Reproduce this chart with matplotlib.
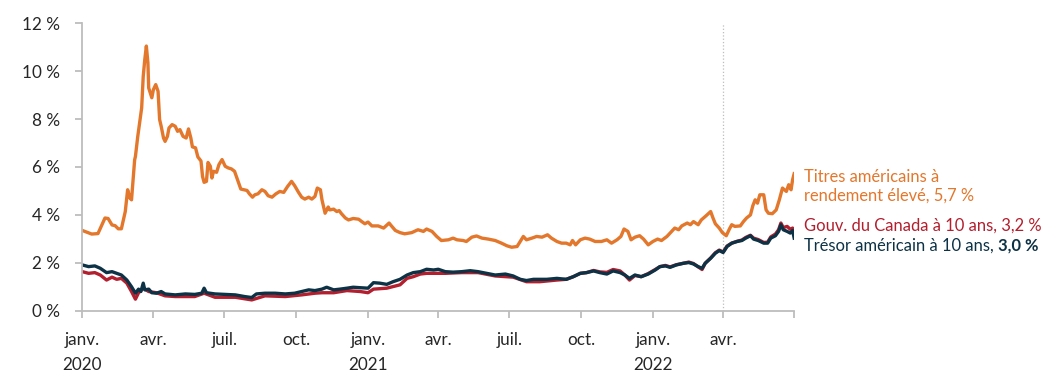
import matplotlib
matplotlib.use("Agg")
import matplotlib.pyplot as plt
import pandas as pd

# jours depuis le 1er janvier 2020, rendements en %
base = pd.Timestamp("2020-01-01")

hy_day = [0, 12, 20, 29, 33, 38, 42, 46, 50, 55, 58, 61, 63, 67, 68, 71, 74, 76, 78, 80,
          82, 84, 85, 89, 91, 94, 97, 99, 101, 104, 106, 109, 111, 115, 119, 122, 125, 129, 133, 136,
          139, 141, 145, 148, 152, 154, 156, 159, 161, 164, 166, 168, 172, 175, 179, 183, 187, 191, 195, 198,
          201, 203, 207, 211, 214, 218, 221, 225, 230, 234, 238, 243, 248, 253, 258, 263, 268, 272, 277, 281,
          285, 290, 294, 298, 301, 305, 307, 309, 311, 315, 317, 322, 326, 329, 332, 337, 341, 347, 354, 358,
          362, 366, 371, 379, 386, 393, 396, 401, 407, 413, 422, 430, 437, 441, 448, 454, 460, 469, 475, 480,
          488, 492, 499, 505, 512, 520, 529, 537, 544, 550, 557, 561, 565, 569, 576, 582, 589, 596, 601, 608,
          614, 620, 625, 628, 632, 638, 644, 650, 657, 665, 672, 678, 685, 690, 694, 699, 703, 708, 714, 719,
          725, 731, 737, 742, 749, 755, 759, 764, 768, 775, 779, 783, 789, 793, 799, 805, 808, 811, 816, 820,
          825, 829, 832, 836, 843, 847, 851, 856, 859, 862, 865, 868, 873, 876, 879, 884, 889, 893, 897, 902,
          905, 908, 910, 912]
hy_val = [3.35, 3.2, 3.22, 3.87, 3.85, 3.58, 3.55, 3.42, 3.42, 4.14, 5.05, 4.7, 4.63, 6.3, 6.44, 7.28, 7.98, 8.47, 9.79, 10.49,
          11.05, 10.35, 9.3, 8.89, 9.23, 9.44, 9.16, 7.98, 7.7, 7.21, 7.07, 7.28, 7.63, 7.77, 7.7, 7.49, 7.56, 7.28, 7.21, 7.59,
          7.21, 6.84, 6.8, 6.42, 6.25, 5.6, 5.36, 5.4, 6.19, 6.03, 5.54, 5.82, 5.78, 6.1, 6.31, 6.03, 5.96, 5.92, 5.82, 5.54,
          5.26, 5.08, 5.05, 5.02, 4.88, 4.74, 4.84, 4.88, 5.05, 4.98, 4.8, 4.74, 4.88, 4.98, 4.94, 5.19, 5.4, 5.22, 4.94, 4.74,
          4.66, 4.74, 4.66, 4.77, 5.12, 5.05, 4.63, 4.35, 4.07, 4.33, 4.21, 4.24, 4.14, 4.18, 4.05, 3.87, 3.79, 3.85, 3.82, 3.72,
          3.63, 3.70, 3.54, 3.54, 3.45, 3.66, 3.54, 3.35, 3.26, 3.21, 3.26, 3.38, 3.31, 3.41, 3.31, 3.1, 2.93, 2.96, 3.03, 2.96,
          2.93, 2.89, 3.07, 3.12, 3.03, 2.99, 2.93, 2.82, 2.71, 2.65, 2.68, 2.89, 3.1, 2.96, 3.03, 3.1, 3.07, 3.17, 3.03, 2.89,
          2.82, 2.82, 2.75, 2.93, 2.75, 2.96, 3.03, 2.99, 2.89, 2.89, 2.96, 2.82, 2.96, 3.1, 3.41, 3.31, 2.96, 3.07, 3.13, 2.99,
          2.75, 2.89, 2.99, 2.93, 3.1, 3.31, 3.45, 3.38, 3.54, 3.66, 3.59, 3.72, 3.59, 3.79, 3.96, 4.14, 3.87, 3.63, 3.45, 3.26,
          3.13, 3.41, 3.59, 3.52, 3.54, 3.72, 3.87, 4.0, 4.38, 4.63, 4.49, 4.84, 4.84, 4.21, 4.07, 4.05, 4.21, 4.63, 5.12, 4.98,
          5.26, 5.05, 5.47, 5.72]

cad_day = [0, 8, 16, 23, 31, 38, 44, 50, 57, 63, 68, 72, 78, 85, 95, 106, 119, 144, 156, 170,
           196, 217, 234, 260, 281, 298, 307, 322, 339, 356, 366, 373, 390, 407, 416, 424, 433, 441, 450, 465,
           486, 507, 529, 552, 569, 586, 608, 620, 629, 638, 646, 655, 663, 672, 680, 689, 695, 701, 708, 716,
           725, 734, 740, 747, 753, 761, 770, 777, 783, 789, 794, 798, 805, 811, 816, 821, 826, 832, 839, 845,
           850, 856, 860, 866, 873, 878, 882, 888, 892, 895, 898, 903, 907, 910, 912]
cad_val = [1.63, 1.56, 1.59, 1.49, 1.28, 1.4, 1.31, 1.35, 1.15, 0.8, 0.48, 0.75, 0.94, 0.8, 0.75, 0.62, 0.59, 0.59, 0.73, 0.56,
           0.56, 0.45, 0.62, 0.59, 0.66, 0.73, 0.75, 0.75, 0.84, 0.8, 0.75, 0.9, 0.94, 1.08, 1.35, 1.42, 1.53, 1.56, 1.56, 1.56,
           1.59, 1.59, 1.45, 1.4, 1.21, 1.21, 1.28, 1.31, 1.42, 1.56, 1.59, 1.68, 1.62, 1.60, 1.72, 1.66, 1.49, 1.28, 1.47, 1.42,
           1.55, 1.72, 1.84, 1.89, 1.83, 1.92, 1.98, 2.03, 1.97, 1.83, 1.72, 1.98, 2.2, 2.42, 2.53, 2.45, 2.7, 2.82, 2.9, 2.95,
           3.06, 3.15, 3.03, 2.97, 2.85, 2.86, 3.08, 3.2, 3.38, 3.66, 3.47, 3.52, 3.4, 3.45, 3.2]

ust_day = [0, 8, 16, 23, 31, 38, 44, 50, 57, 63, 68, 72, 75, 78, 80, 85, 89, 95, 101, 106,
           119, 132, 144, 153, 156, 159, 170, 183, 196, 208, 217, 223, 234, 247, 260, 272, 281, 290, 298, 307,
           313, 322, 330, 339, 347, 356, 366, 373, 381, 390, 398, 407, 416, 424, 433, 441, 450, 456, 465, 475,
           486, 497, 507, 518, 529, 542, 552, 561, 569, 578, 586, 595, 608, 620, 629, 638, 646, 655, 663, 672,
           680, 689, 695, 701, 708, 716, 725, 734, 740, 747, 753, 761, 770, 777, 783, 789, 794, 798, 805, 811,
           816, 821, 826, 832, 839, 845, 850, 856, 860, 866, 873, 878, 882, 888, 892, 895, 898, 903, 907, 910,
           912]
ust_val = [1.91, 1.84, 1.87, 1.77, 1.59, 1.63, 1.56, 1.49, 1.28, 1.0, 0.73, 0.9, 0.8, 1.15, 0.87, 0.9, 0.75, 0.73, 0.8, 0.7,
           0.66, 0.7, 0.68, 0.73, 0.94, 0.75, 0.7, 0.68, 0.66, 0.59, 0.55, 0.7, 0.73, 0.73, 0.7, 0.73, 0.8, 0.87, 0.84, 0.9,
           0.98, 0.87, 0.9, 0.94, 0.98, 0.96, 0.94, 1.17, 1.15, 1.1, 1.21, 1.31, 1.49, 1.59, 1.63, 1.73, 1.7, 1.73, 1.63, 1.61,
           1.63, 1.67, 1.63, 1.56, 1.49, 1.53, 1.45, 1.31, 1.26, 1.31, 1.31, 1.31, 1.35, 1.31, 1.42, 1.56, 1.59, 1.66, 1.59, 1.53,
           1.66, 1.59, 1.49, 1.35, 1.49, 1.42, 1.53, 1.7, 1.84, 1.87, 1.81, 1.91, 1.98, 2.01, 1.95, 1.84, 1.77, 1.98, 2.19, 2.4,
           2.51, 2.43, 2.68, 2.82, 2.89, 2.93, 3.03, 3.13, 2.99, 2.93, 2.82, 2.82, 3.03, 3.13, 3.31, 3.59, 3.38, 3.31, 3.24, 3.35,
           3.03]

tick_dates = ["2020-01-01", "2020-04-01", "2020-07-01", "2020-10-01", "2021-01-01", "2021-04-01",
              "2021-07-01", "2021-10-01", "2022-01-01", "2022-04-01", "2022-07-01"]
tick_labels = ["janv.\n2020", "avr.", "juil.", "oct.", "janv.\n2021", "avr.",
               "juil.", "oct.", "janv.\n2022", "avr.", ""]
y_ticks = [0, 2, 4, 6, 8, 10, 12]

ORANGE = "#E3772C"
RED = "#B21F2E"
NAVY = "#0D3245"
GREY_TXT = "#262626"
GREY_AX = "#BDBDBD"
FS = 12.3
FS_LAB = 11.9

plt.rcParams["font.family"] = ["Lato", "DejaVu Sans"]


def to_dates(days):
    return base + pd.to_timedelta(days, unit="D")


fig = plt.figure(figsize=(10.64, 3.89), dpi=100)
ax = fig.add_axes([0.0774, 0.2013, 0.6690, 0.7388])

ax.plot(to_dates(hy_day), hy_val, color=ORANGE, lw=2.4, solid_joinstyle="round")
ax.plot(to_dates(cad_day), cad_val, color=RED, lw=2.4, solid_joinstyle="round")
ax.plot(to_dates(ust_day), ust_val, color=NAVY, lw=2.4, solid_joinstyle="round")

ax.axvline(pd.Timestamp("2022-04-01"), color=GREY_AX, lw=0.9, ls=":", zorder=0)

ax.set_xlim(pd.Timestamp("2020-01-01"), pd.Timestamp("2022-07-01"))
ax.set_ylim(0, 12)
ax.set_yticks(y_ticks)
ax.set_yticklabels([f"{v} %" for v in y_ticks])
ax.set_xticks([pd.Timestamp(d) for d in tick_dates])
ax.set_xticklabels(tick_labels, linespacing=1.75)

for s in ["top", "right"]:
    ax.spines[s].set_visible(False)
for s in ["left", "bottom"]:
    ax.spines[s].set_color(GREY_AX)
    ax.spines[s].set_linewidth(1.3)

ax.tick_params(axis="both", colors=GREY_AX, width=1.3, length=5, labelcolor=GREY_TXT, labelsize=FS)
ax.tick_params(axis="y", pad=11)
ax.tick_params(axis="x", pad=10)

# étiquettes à droite des séries
lab_x = 0.7556
fig.text(lab_x, 0.533, "Titres américains à", color=ORANGE, fontsize=FS_LAB, va="baseline")
fig.text(lab_x, 0.484, "rendement élevé, 5,7 %", color=ORANGE, fontsize=FS_LAB, va="baseline")
fig.text(lab_x, 0.407, "Gouv. du Canada à 10 ans, 3,2 %", color=RED, fontsize=FS_LAB, va="baseline")
t = fig.text(lab_x, 0.3555, "Trésor américain à 10 ans, ", color=NAVY, fontsize=FS_LAB, va="baseline")
ax.annotate("3,0 %", xy=(1, 0), xycoords=t, va="bottom", ha="left",
            color=NAVY, fontsize=FS_LAB, fontweight="bold", annotation_clip=False)

fig.savefig("out.png", dpi=100)
